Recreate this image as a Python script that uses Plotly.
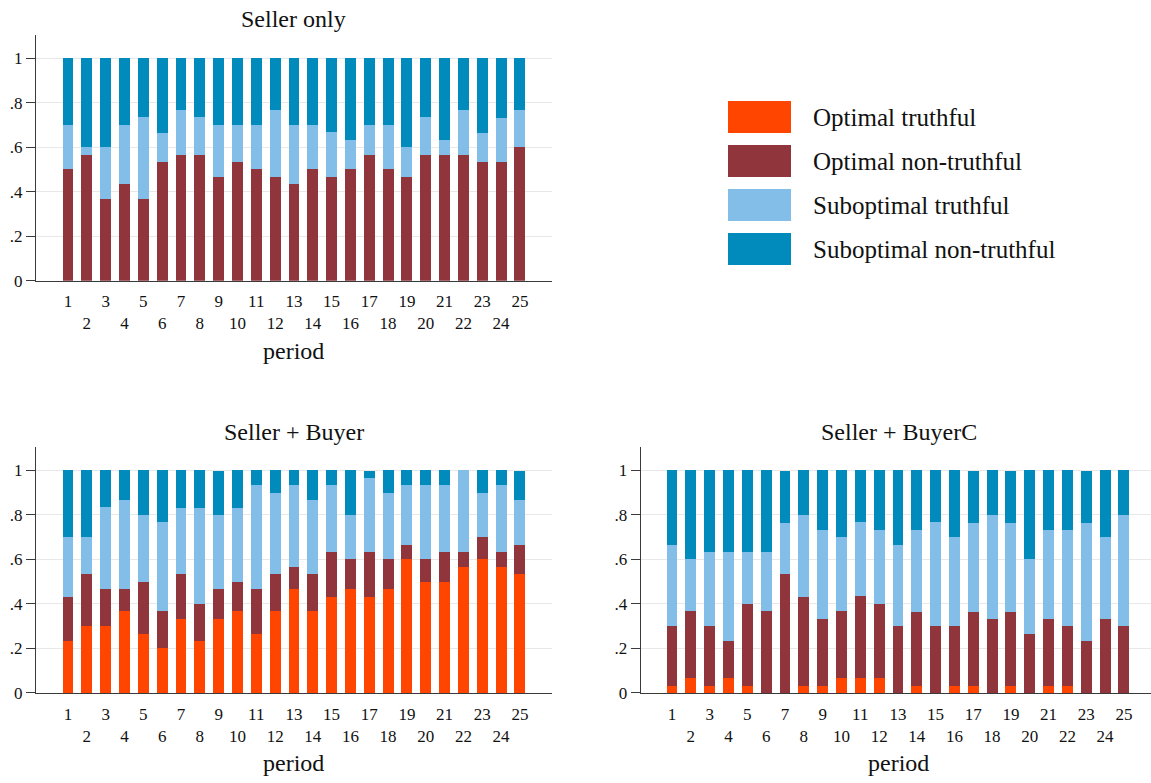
import plotly.graph_objects as go

# Page is 1151x783; the body margin is removed with a small post script so the
# figure fills the page exactly. All pixel positions below are page pixels.
W, H = 1151, 783

periods = list(range(1, 26))
series_names = ["Optimal truthful", "Optimal non-truthful", "Suboptimal truthful", "Suboptimal non-truthful"]
series_colors = ["#FF4500", "#90353B", "#83BEE9", "#008BBC"]
panel_titles = ["Seller only", "Seller + Buyer", "Seller + BuyerC"]

# --- Seller only (shares per period) ---
so_opt_truth = [0] * 25
so_opt_nontruth = [.5, .567, .367, .433, .367, .533, .567, .567, .467, .533, .5, .467, .433,
                   .5, .467, .5, .567, .5, .467, .567, .567, .567, .533, .533, .6]
so_sub_truth = [.2, .033, .233, .267, .367, .133, .2, .167, .233, .167, .2, .3, .267,
                .2, .2, .133, .133, .2, .133, .167, .067, .2, .133, .2, .167]
so_sub_nontruth = [.3, .4, .4, .3, .267, .333, .233, .267, .3, .3, .3, .233, .3,
                   .3, .333, .367, .3, .3, .4, .267, .367, .233, .333, .267, .233]

# --- Seller + Buyer ---
sb_opt_truth = [.233, .3, .3, .367, .267, .2, .333, .233, .333, .367, .267, .367, .467,
                .367, .433, .467, .433, .467, .6, .5, .5, .567, .6, .567, .533]
sb_opt_nontruth = [.2, .233, .167, .1, .233, .167, .2, .167, .133, .133, .2, .167, .1,
                   .167, .2, .133, .2, .133, .067, .1, .133, .067, .1, .067, .133]
sb_sub_truth = [.267, .167, .367, .4, .3, .4, .3, .433, .333, .333, .467, .367, .367,
                .333, .3, .2, .333, .3, .267, .333, .3, .367, .2, .3, .2]
sb_sub_nontruth = [.3, .3, .167, .133, .2, .233, .167, .167, .2, .167, .067, .1, .067,
                   .133, .067, .2, .033, .1, .067, .067, .067, 0, .1, .067, .133]

# --- Seller + BuyerC ---
sc_opt_truth = [.033, .067, .033, .067, .033, 0, 0, .033, .033, .067, .067, .067, 0,
                .033, 0, .033, .033, 0, .033, 0, .033, .033, 0, 0, 0]
sc_opt_nontruth = [.267, .3, .267, .167, .367, .367, .533, .4, .3, .3, .367, .333, .3,
                   .333, .3, .267, .333, .333, .333, .267, .3, .267, .233, .333, .3]
sc_sub_truth = [.367, .233, .333, .4, .233, .267, .233, .367, .4, .333, .333, .333, .367,
                .367, .467, .4, .4, .467, .4, .333, .4, .433, .533, .367, .5]
sc_sub_nontruth = [.333, .4, .367, .367, .367, .367, .233, .2, .267, .3, .233, .267, .333,
                   .267, .233, .3, .233, .2, .233, .4, .267, .267, .233, .3, .2]

y_tickvals = [0, .2, .4, .6, .8, 1]
y_ticktext = ["0", ".2", ".4", ".6", ".8", "1"]
x_ticktext = [str(p) if p % 2 == 1 else "<br>" + str(p) for p in periods]

panels = [
    [so_opt_truth, so_opt_nontruth, so_sub_truth, so_sub_nontruth],
    [sb_opt_truth, sb_opt_nontruth, sb_sub_truth, sb_sub_nontruth],
    [sc_opt_truth, sc_opt_nontruth, sc_sub_truth, sc_sub_nontruth],
]

FONT = "Liberation Serif"
TXT = "#111111"
AX = "#3a3a3a"


def px(x):
    return x / W


def py(y):
    return 1 - y / H


PITCH = 18.83
UNIT = 222.5
YMAX = 1.105
PANEL_W = 515.7
# (left axis x, first bar center x, right end x, zero-line y) in page pixels
geom = [
    (36.0, 68.0, 551.7, 280.7),
    (36.0, 68.0, 551.7, 693.0),
    (640.7, 672.0, W, 693.0),
]

fig = go.Figure()
layout_axes = {}
annotations = []
for i, (data, (xl, xb, xr, y0)) in enumerate(zip(panels, geom)):
    ax = "" if i == 0 else str(i + 1)
    for name, color, vals in zip(series_names, series_colors, data):
        fig.add_trace(go.Bar(
            x=periods, y=vals, name=name, marker_color=color,
            marker_line_width=0, showlegend=False,
            xaxis="x" + ax, yaxis="y" + ax,
        ))
    xmin = 1 - (xb - xl) / PITCH
    xmax = xmin + (xr - xl) / PITCH
    ytop = y0 - YMAX * UNIT
    layout_axes["xaxis" + ax] = dict(
        domain=[px(xl), min(1.0, px(xr))], anchor="y" + ax, range=[xmin, xmax],
        tickmode="array", tickvals=periods, ticktext=x_ticktext, tickangle=0,
        showline=True, linecolor=AX, linewidth=1.3, ticks="",
        showgrid=False, zeroline=False, ticklabelstandoff=5,
        tickfont=dict(family=FONT, size=17, color=TXT), automargin=False,
    )
    layout_axes["yaxis" + ax] = dict(
        domain=[py(y0), py(ytop)], anchor="x" + ax, range=[0, YMAX],
        tickmode="array", tickvals=y_tickvals, ticktext=y_ticktext,
        showline=True, linecolor=AX, linewidth=1.3,
        ticks="outside", ticklen=9, tickwidth=1.3, tickcolor=AX,
        showgrid=True, gridcolor="#E8E8E8", gridwidth=1, zeroline=False,
        tickfont=dict(family=FONT, size=17, color=TXT), automargin=False,
    )
    cx = xl + PANEL_W / 2
    annotations.append(dict(
        text=panel_titles[i], x=px(cx), y=py(ytop - 15.5),
        xref="paper", yref="paper", xanchor="center", yanchor="middle",
        showarrow=False, font=dict(family=FONT, size=24, color=TXT),
    ))
    annotations.append(dict(
        text="period", x=px(cx), y=py(y0 + 70),
        xref="paper", yref="paper", xanchor="center", yanchor="middle",
        showarrow=False, font=dict(family=FONT, size=24, color=TXT),
    ))

# legend drawn as boxes + labels
shapes = []
for k, (name, color) in enumerate(zip(series_names, series_colors)):
    top = 101 + 44 * k
    shapes.append(dict(
        type="rect", xref="paper", yref="paper",
        x0=px(728), x1=px(791), y0=py(top + 32), y1=py(top),
        fillcolor=color, line=dict(width=0),
    ))
    annotations.append(dict(
        text=name, x=px(811), y=py(top + 16),
        xref="paper", yref="paper", xanchor="left", yanchor="middle",
        showarrow=False, font=dict(family=FONT, size=25, color=TXT),
    ))

fig.update_layout(
    width=W, height=H, barmode="stack", bargap=0.42,
    margin=dict(l=0, r=0, t=0, b=0),
    paper_bgcolor="white", plot_bgcolor="white",
    showlegend=False, annotations=annotations, shapes=shapes,
    **layout_axes,
)

fig.write_html(
    "out.html",
    config={"displayModeBar": False},
    post_script="document.body.style.margin='0px';document.body.style.overflow='hidden';",
)
